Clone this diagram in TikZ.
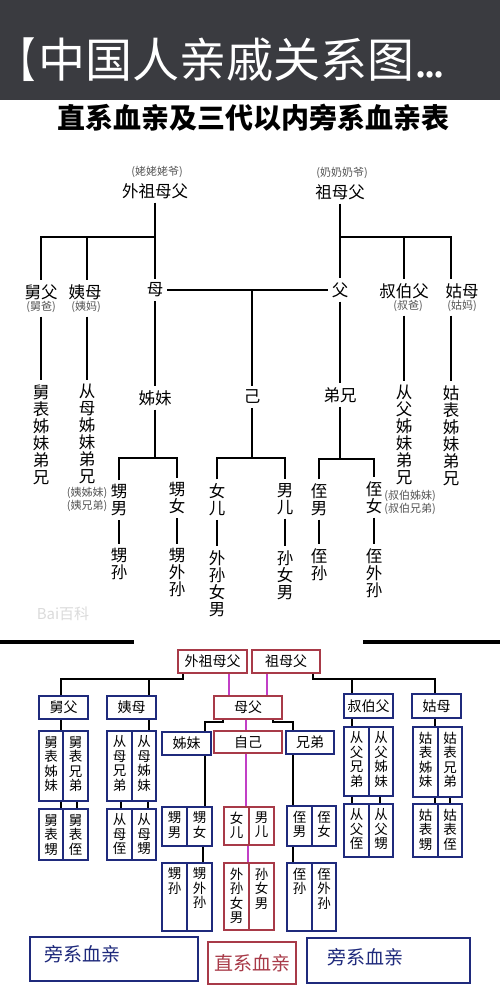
\documentclass[tikz,border=0pt]{standalone}
\usepackage{fontspec}
\usepackage{graphicx}
\newfontfamily\cjk{Noto Sans CJK SC}
\definecolor{bandc}{HTML}{3A3B40}
\definecolor{navyc}{HTML}{1F2A7C}
\definecolor{redc}{HTML}{A83A48}
\definecolor{magc}{HTML}{C23FC6}
\definecolor{subc}{HTML}{555555}
\tikzset{
  lab/.style={font=\cjk\fontsize{16.5}{17}\selectfont, inner sep=0pt, outer sep=4pt},
  sub/.style={font=\cjk\fontsize{11}{12}\selectfont, text=subc, inner sep=0pt, outer sep=4pt},
  stk/.style={font=\cjk\fontsize{16.5}{17}\selectfont, inner sep=0pt, outer sep=4pt, align=center, anchor=north, yshift=11.6pt},
  ln/.style={line width=1.6pt, black},
  bl/.style={line width=1.8pt, black},
  mg/.style={line width=2pt, magc},
  bbx/.style={draw=navyc, line width=1.7pt, fill=white, inner sep=0pt, font=\cjk\fontsize{14}{15}\selectfont},
  rbx/.style={draw=redc, line width=1.7pt, fill=white, inner sep=0pt, font=\cjk\fontsize{14}{15}\selectfont},
  vtx/.style={font=\cjk\fontsize{13.5}{14.5}\selectfont, inner sep=0pt, align=center, anchor=north, yshift=-5.5pt},
}
\begin{document}
\begin{tikzpicture}[x=1pt,y=-1pt]
\useasboundingbox (0,0) rectangle (500,992);
\fill[white] (0,0) rectangle (500,992);
% header
\fill[bandc] (0,0) rectangle (500,100);
\node[font=\cjk\fontsize{47}{47}\selectfont, text=white, anchor=west, inner sep=0pt] (brk) at (0,60) {\scalebox{0.75}[1]{【}};
\node[font=\cjk\fontsize{47}{47}\selectfont, text=white, anchor=west, inner sep=0pt] (title) at (38.5,60) {中国人亲戚关系图.\kern-4pt.\kern-4pt.};
\node[font=\cjk\bfseries\fontsize{28}{28}\selectfont, inner sep=0pt] (subt) at (253,117.5) {直系血亲及三代以内旁系血亲表};

% ---------- top tree ----------
\node[lab] (wzmf) at (155,191) {外祖母父};
\node[sub] (wzmfs) at (157,172) {(姥姥姥爷)};
\node[lab] (zmf) at (340,192) {祖母父};
\node[sub] (zmfs) at (342,173) {(奶奶奶爷)};
\node[lab] (jiufu) at (41,292) {舅父};
\node[sub] (jiufus) at (41,307) {(舅爸)};
\node[lab] (yimu) at (85,292) {姨母};
\node[sub] (yimus) at (86,307) {(姨妈)};
\node[lab] (mu) at (155,290) {母};
\node[lab] (fu) at (340,290) {父};
\node[lab] (sbf) at (404,291) {叔伯父};
\node[sub] (sbfs) at (408,306) {(叔爸)};
\node[lab] (gumu) at (462,291) {姑母};
\node[sub] (gumus) at (462,306) {(姑妈)};

\node[stk] (jb) at (41,392) {舅\\表\\姊\\妹\\弟\\兄};
\node[stk] (cm) at (87,392) {从\\母\\姊\\妹\\弟\\兄};
\node[sub] (cms1) at (87,493) {(姨姊妹)};
\node[sub] (cms2) at (87,506) {(姨兄弟)};
\node[lab] (zimei) at (155,398) {姊妹};
\node[lab] (ji) at (252,397) {己};
\node[lab] (dx) at (340,395) {弟兄};
\node[stk] (cf) at (404,393) {从\\父\\姊\\妹\\弟\\兄};
\node[sub] (cfs1) at (410,496) {(叔伯姊妹)};
\node[sub] (cfs2) at (410,509) {(叔伯兄弟)};
\node[stk] (gb) at (451,393) {姑\\表\\姊\\妹\\弟\\兄};

\node[stk] (snan) at (119,492) {甥\\男};
\node[stk] (ssun) at (119,556) {甥\\孙};
\node[stk] (snv) at (177,490) {甥\\女};
\node[stk] (swsun) at (177,556) {甥\\外\\孙};
\node[stk] (nver) at (217,491) {女\\儿};
\node[stk] (wsnn) at (217,558) {外\\孙\\女\\男};
\node[stk] (ner) at (285,491) {男\\儿};
\node[stk] (snn) at (285,558) {孙\\女\\男};
\node[stk] (znan) at (319,491) {侄\\男};
\node[stk] (zsun) at (319,556) {侄\\孙};
\node[stk] (znv) at (374,489) {侄\\女};
\node[stk] (zwsun) at (374,556) {侄\\外\\孙};

\coordinate (wb) at (155,237);
\draw[ln] (wzmf) -- (mu);
\draw[ln] (wb) -| (jiufu);
\draw[ln] (cm |- wb) -- (cm |- yimu.north);
\draw[ln] (jiufus) -- (jb);
\draw[ln] (cm |- yimus.south) -- (cm.north);
\draw[ln] (mu) -- (fu);
\draw[ln] (mu) -- (zimei);
\draw[ln] (ji |- mu) -- (ji);
\coordinate (zb) at (340,237);
\draw[ln] (zmf) -- (fu);
\draw[ln] (zb) -| (gumu.north -| gb);
\draw[ln] (sbf |- zb) -- (sbf);
\draw[ln] (sbfs.south -| cf) -- (cf);
\draw[ln] (gumus.south -| gb) -- (gb);
\draw[ln] (fu) -- (dx);

\coordinate (zmb) at (155,458);
\draw[ln] (zimei) -- (zmb);
\draw[ln] (snan.north) |- (zmb) -| (snv.north);
\draw[ln] (snan) -- (ssun);
\draw[ln] (snv) -- (swsun);
\coordinate (jib) at (252,458);
\draw[ln] (ji) -- (jib);
\draw[ln] (nver.north) |- (jib) -| (ner.north);
\draw[ln] (nver) -- (wsnn);
\draw[ln] (ner) -- (snn);
\coordinate (dxb) at (340,459);
\draw[ln] (dx) -- (dxb);
\draw[ln] (znan.north) |- (dxb) -| (znv.north);
\draw[ln] (znan) -- (zsun);
\draw[ln] (znv) -- (zwsun);

\node[font=\cjk\fontsize{15}{15}\selectfont, text=black!14, inner sep=0pt] (wm) at (63,614) {Bai百科};

% separator
\draw[line width=4pt] (0,642) -- (134,642);
\draw[line width=4pt] (363,642) -- (500,642);

% ---------- bottom chart ----------
\node[rbx, minimum width=69pt, minimum height=23pt] (Bwzmf) at (212.5,661.5) {外祖母父};
\node[rbx, minimum width=68pt, minimum height=23pt] (Bzmf) at (286,661.5) {祖母父};
\node[rbx, minimum width=68pt, minimum height=23pt] (Bmf) at (248,707.5) {母父};
\node[rbx, minimum width=68pt, minimum height=22pt] (Bzj) at (248,742) {自己};
\node[bbx, minimum width=49pt, minimum height=23pt] (Bzm) at (186.5,743.5) {姊妹};
\node[bbx, minimum width=48pt, minimum height=23pt] (Bxd) at (310,742.5) {兄弟};
\node[bbx, minimum width=49pt, minimum height=23pt] (Bjf) at (63.5,707.5) {舅父};
\node[bbx, minimum width=49pt, minimum height=23pt] (Bym) at (131.5,707.5) {姨母};
\node[bbx, minimum width=49pt, minimum height=24pt] (Bsbf) at (368.5,706) {叔伯父};
\node[bbx, minimum width=49pt, minimum height=24pt] (Bgm) at (436.5,706) {姑母};

% row 2
\node[bbx, minimum width=24pt, minimum height=70pt] (Bjb1) at (51,766) {};
\node[bbx, minimum width=25pt, minimum height=70pt] (Bjb2) at (75.5,766) {};
\node[bbx, minimum width=25pt, minimum height=70pt] (Bcm1) at (119.5,766) {};
\node[bbx, minimum width=24pt, minimum height=70pt] (Bcm2) at (144,766) {};
\node[bbx, minimum width=25pt, minimum height=69pt] (Bcf1) at (356.5,761.5) {};
\node[bbx, minimum width=24pt, minimum height=69pt] (Bcf2) at (381,761.5) {};
\node[bbx, minimum width=25pt, minimum height=70pt] (Bgb1) at (425.5,762) {};
\node[bbx, minimum width=24pt, minimum height=70pt] (Bgb2) at (450,762) {};
\node[vtx] (tjb1) at (Bjb1.north) {舅\\表\\姊\\妹};
\node[vtx] (tjb2) at (Bjb2.north) {舅\\表\\兄\\弟};
\node[vtx] (tcm1) at (Bcm1.north) {从\\母\\兄\\弟};
\node[vtx] (tcm2) at (Bcm2.north) {从\\母\\姊\\妹};
\node[vtx] (tcf1) at (Bcf1.north) {从\\父\\兄\\弟};
\node[vtx] (tcf2) at (Bcf2.north) {从\\父\\姊\\妹};
\node[vtx] (tgb1) at (Bgb1.north) {姑\\表\\姊\\妹};
\node[vtx] (tgb2) at (Bgb2.north) {姑\\表\\兄\\弟};

% row 3
\node[bbx, minimum width=24pt, minimum height=51pt] (Bjb3) at (51,834.5) {};
\node[bbx, minimum width=25pt, minimum height=51pt] (Bjb4) at (75.5,834.5) {};
\node[bbx, minimum width=25pt, minimum height=51pt] (Bcm3) at (119.5,834.5) {};
\node[bbx, minimum width=24pt, minimum height=51pt] (Bcm4) at (144,834.5) {};
\node[bbx, minimum width=25pt, minimum height=39pt] (Bsn) at (174.5,826.5) {};
\node[bbx, minimum width=25pt, minimum height=39pt] (Bsv) at (199.5,826.5) {};
\node[rbx, minimum width=25pt, minimum height=38pt] (Bnv) at (236.5,826) {};
\node[rbx, minimum width=25pt, minimum height=38pt] (Bne) at (261.5,826) {};
\node[bbx, minimum width=25pt, minimum height=40pt] (Bzn) at (299.5,826) {};
\node[bbx, minimum width=24pt, minimum height=40pt] (Bzv) at (324,826) {};
\node[bbx, minimum width=25pt, minimum height=53pt] (Bcf3) at (356.5,830.5) {};
\node[bbx, minimum width=24pt, minimum height=53pt] (Bcf4) at (381,830.5) {};
\node[bbx, minimum width=25pt, minimum height=53pt] (Bgb3) at (425.5,830.5) {};
\node[bbx, minimum width=24pt, minimum height=53pt] (Bgb4) at (450,830.5) {};
\node[vtx] (tjb3) at (Bjb3.north) {舅\\表\\甥};
\node[vtx] (tjb4) at (Bjb4.north) {舅\\表\\侄};
\node[vtx] (tcm3) at (Bcm3.north) {从\\母\\侄};
\node[vtx] (tcm4) at (Bcm4.north) {从\\母\\甥};
\node[vtx] (tsn) at (Bsn.north) {甥\\男};
\node[vtx] (tsv) at (Bsv.north) {甥\\女};
\node[vtx] (tnv) at (Bnv.north) {女\\儿};
\node[vtx] (tne) at (Bne.north) {男\\儿};
\node[vtx] (tzn) at (Bzn.north) {侄\\男};
\node[vtx] (tzv) at (Bzv.north) {侄\\女};
\node[vtx] (tcf3) at (Bcf3.north) {从\\父\\侄};
\node[vtx] (tcf4) at (Bcf4.north) {从\\父\\甥};
\node[vtx] (tgb3) at (Bgb3.north) {姑\\表\\甥};
\node[vtx] (tgb4) at (Bgb4.north) {姑\\表\\侄};

% row 4
\node[bbx, minimum width=25pt, minimum height=68pt] (Bss) at (174.5,897) {};
\node[bbx, minimum width=25pt, minimum height=68pt] (Bsws) at (199.5,897) {};
\node[rbx, minimum width=25pt, minimum height=67pt] (Bwsnn) at (236.5,896.5) {};
\node[rbx, minimum width=25pt, minimum height=67pt] (Bsnn) at (261.5,896.5) {};
\node[bbx, minimum width=25pt, minimum height=68pt] (Bzs) at (299.5,897) {};
\node[bbx, minimum width=24pt, minimum height=68pt] (Bzws) at (324,897) {};
\node[vtx] (tss) at (Bss.north) {甥\\孙};
\node[vtx] (tsws) at (Bsws.north) {甥\\外\\孙};
\node[vtx] (twsnn) at (Bwsnn.north) {外\\孙\\女\\男};
\node[vtx] (tsnn) at (Bsnn.north) {孙\\女\\男};
\node[vtx] (tzs) at (Bzs.north) {侄\\孙};
\node[vtx] (tzws) at (Bzws.north) {侄\\外\\孙};

% legend
\node[bbx, minimum width=168pt, minimum height=44pt] (BL) at (114,959) {};
\node[rbx, minimum width=88pt, minimum height=42pt, text=redc, font=\cjk\fontsize{19}{19}\selectfont] (BM) at (252,963) {直系血亲};
\node[bbx, minimum width=163pt, minimum height=45pt] (BR) at (388.5,960.5) {};
\node[font=\cjk\fontsize{19}{19}\selectfont, text=navyc, anchor=west, inner sep=0pt] (BLt) at (44,954) {旁系血亲};
\node[font=\cjk\fontsize{19}{19}\selectfont, text=navyc, anchor=west, inner sep=0pt] (BRt) at (327,957) {旁系血亲};

% connectors (black)
\coordinate (lb) at (183,679);
\coordinate (jfx) at (61,679);
\coordinate (ymx) at (149,679);
\draw[bl] (lb |- Bwzmf.south) -- (lb) -- (jfx) -- (jfx |- Bjf.north);
\draw[bl] (ymx) -- (ymx |- Bym.north);
\coordinate (rb) at (313,679);
\coordinate (sbx) at (352,679);
\coordinate (gmx) at (435,679);
\draw[bl] (rb |- Bzmf.south) -- (rb) -- (gmx) -- (gmx |- Bgm.north);
\draw[bl] (sbx) -- (sbx |- Bsbf.north);
\draw[bl] (jfx |- Bjf.south) -- (jfx |- Bjb1.north);
\draw[bl] (ymx |- Bym.south) -- (ymx |- Bcm2.north);
\draw[bl] (sbx |- Bsbf.south) -- (sbx |- Bcf1.north);
\draw[bl] (gmx |- Bgm.south) -- (gmx |- Bgb1.north);
\foreach \x/\a/\b in {61/Bjb1/Bjb3, 77/Bjb2/Bjb4, 121/Bcm1/Bcm3, 148/Bcm2/Bcm4, 352/Bcf1/Bcf3, 380/Bcf2/Bcf4, 435/Bgb1/Bgb3, 450/Bgb2/Bgb4}
  \draw[bl] (\x,0 |- \a.south) -- (\x,0 |- \b.north);
\coordinate (mfl1) at (223,722);
\coordinate (mfl2) at (205,722);
\draw[bl] (mfl1 |- Bmf.south) -- (mfl1) -- (mfl2) -- (mfl2 |- Bzm.north);
\coordinate (mfr1) at (273,722);
\coordinate (mfr2) at (293,722);
\draw[bl] (mfr1 |- Bmf.south) -- (mfr1) -- (mfr2) -- (mfr2 |- Bxd.north);
\draw[bl] (mfl2 |- Bzm.south) -- (mfl2 |- Bsv.north);
\draw[bl] (203,0 |- Bsv.south) -- (203,0 |- Bsws.north);
\draw[bl] (mfr2 |- Bxd.south) -- (mfr2 |- Bzn.north);
\draw[bl] (mfr2 |- Bzn.south) -- (mfr2 |- Bzs.north);
% connectors (magenta)
\draw[mg] (229,0 |- Bwzmf.south) -- (229,0 |- Bmf.north);
\draw[mg] (267,0 |- Bzmf.south) -- (267,0 |- Bmf.north);
\draw[mg] (246,0 |- Bmf.south) -- (246,0 |- Bzj.north);
\draw[mg] (246,0 |- Bzj.south) -- (246,0 |- Bnv.north);
\draw[mg] (248,0 |- Bnv.south) -- (248,0 |- Bwsnn.north);
\end{tikzpicture}
\end{document}
